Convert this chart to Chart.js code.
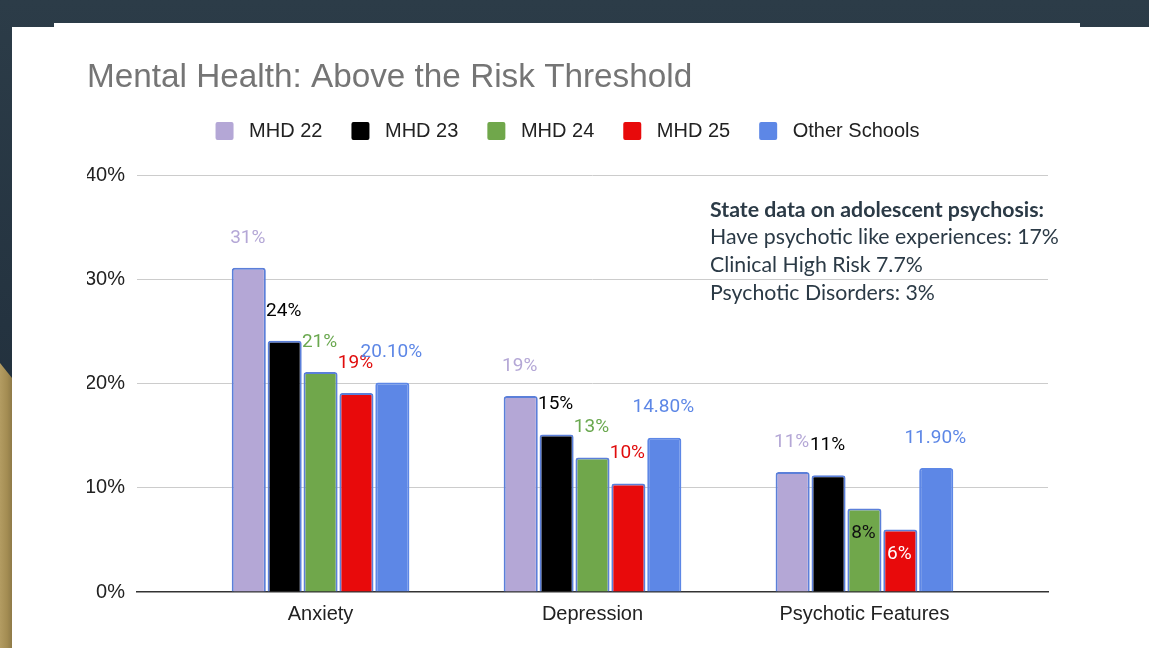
<!DOCTYPE html>
<html>
<head>
<meta charset="utf-8">
<script src="https://cdn.jsdelivr.net/npm/chart.js"></script>
<style>
  html, body { margin: 0; padding: 0; }
  body { width: 1149px; height: 648px; position: relative; overflow: hidden;
         background: linear-gradient(180deg, #2c3c48 0%, #243340 50%, #1f2b35 100%); }
  #gold { position: absolute; left: 0; top: 360px; width: 12px; height: 288px;
          background: linear-gradient(90deg, #b39c62 0%, #a38c52 60%, #8e7a48 100%);
          clip-path: polygon(0 3px, 100% 18px, 100% 100%, 0 100%); }
  #card { position: absolute; left: 12px; top: 27px; right: 0; bottom: 0; background: #ffffff; }
  #cardTop { position: absolute; left: 54px; top: 23px; width: 1026px; height: 6px; background: #ffffff; }
  #chart { position: absolute; left: 0; top: 0; }
  #note { position: absolute; left: 710px; top: 195.5px; font-family: Lato, "Open Sans", sans-serif;
          font-size: 21.3px; line-height: 27.7px; color: #2b3a46; white-space: nowrap; }
  #note b { font-weight: 700; }
</style>
</head>
<body>
<div id="gold"></div>
<div id="card"></div>
<div id="cardTop"></div>
<canvas id="chart" width="1149" height="648"></canvas>
<div id="note"><b>State data on adolescent psychosis:</b><br>Have psychotic like experiences: 17%<br>Clinical High Risk 7.7%<br>Psychotic Disorders: 3%</div>
<script>
const categories = ['Anxiety', 'Depression', 'Psychotic Features'];
const seriesNames = ['MHD 22', 'MHD 23', 'MHD 24', 'MHD 25', 'Other Schools'];
const mhd22 = [31.1, 18.8, 11.5];
const mhd23 = [24.1, 15.1, 11.2];
const mhd24 = [21.1, 12.9, 8.0];
const mhd25 = [19.1, 10.4, 6.0];
const other = [20.1, 14.8, 11.9];
const mhd22Labels = ['31%', '19%', '11%'];
const mhd23Labels = ['24%', '15%', '11%'];
const mhd24Labels = ['21%', '13%', '8%'];
const mhd25Labels = ['19%', '10%', '6%'];
const otherLabels = ['20.10%', '14.80%', '11.90%'];
const yTicks = [0, 10, 20, 30, 40];

const fills = ['#b4a7d6', '#000000', '#70a74b', '#e80a0b', '#5d87e6'];
const labelColors = ['#b4a7d6', '#000000', '#6aa84f', '#e00c0c', '#5d87e6'];
const insideColors = ['#000000', '#ffffff', '#111111', '#ffffff', '#ffffff'];
const allValues = [mhd22, mhd23, mhd24, mhd25, other];
const allLabels = [mhd22Labels, mhd23Labels, mhd24Labels, mhd25Labels, otherLabels];

const datasets = allValues.map((vals, si) => ({
  label: seriesNames[si],
  data: vals.map((v, i) => ({ x: i, y: v })),
  backgroundColor: fills[si],
  borderColor: si === 4 ? fills[si] : '#5b7fd9',
  borderWidth: 2,
  borderSkipped: 'bottom',
  borderRadius: { topLeft: 3, topRight: 3 },
  barPercentage: 0.95,
  categoryPercentage: 0.66
}));

const barLabelPlugin = {
  id: 'barLabels',
  afterDatasetsDraw(chart) {
    const ctx = chart.ctx;
    ctx.save();
    ctx.font = '19px Roboto';
    ctx.textAlign = 'center';
    ctx.textBaseline = 'middle';
    chart.data.datasets.forEach((ds, si) => {
      const meta = chart.getDatasetMeta(si);
      meta.data.forEach((bar, i) => {
        const v = allValues[si][i];
        const inside = v < 9;
        ctx.fillStyle = inside ? insideColors[si] : labelColors[si];
        const y = inside ? bar.y + 25 : bar.y - 30;
        ctx.fillText(allLabels[si][i], bar.x - 1, y);
      });
    });
    ctx.restore();
  }
};

const axisFont = { family: '"Liberation Sans", Arial, sans-serif', size: 20 };

new Chart(document.getElementById('chart'), {
  type: 'bar',
  data: { datasets },
  plugins: [barLabelPlugin],
  options: {
    responsive: false,
    animation: false,
    layout: { padding: { left: 87, right: 101, top: 0, bottom: 0 } },
    plugins: {
      tooltip: { enabled: false },
      title: {
        display: true,
        text: 'Mental Health: Above the Risk Threshold',
        align: 'start',
        color: '#757575',
        font: { family: '"Liberation Sans", Arial, sans-serif', size: 33.3, weight: 'normal', lineHeight: '1px' },
        padding: { top: 77.7, bottom: 13.3 }
      },
      legend: {
        position: 'top',
        align: 'center',
        labels: {
          boxWidth: 18,
          boxHeight: 18,
          useBorderRadius: true,
          borderRadius: 2,
          padding: 29,
          color: '#222222',
          font: axisFont,
          generateLabels(chart) {
            const items = Chart.defaults.plugins.legend.labels.generateLabels(chart);
            items.forEach(it => { it.lineWidth = 0; it.strokeStyle = it.fillStyle; it.text = ' ' + it.text; });
            return items;
          }
        }
      }
    },
    scales: {
      x: {
        type: 'linear',
        offset: false,
        min: -0.675,
        max: 2.675,
        afterBuildTicks(scale) { scale.ticks = categories.map((c, i) => ({ value: i })); },
        afterFit(scale) { scale.height = 56; },
        ticks: {
          callback: (v) => categories[v],
          color: '#222222',
          padding: 2,
          font: axisFont
        },
        grid: { display: false, offset: false },
        border: { display: true, color: '#333333', width: 1.5 }
      },
      xGap: {
        type: 'linear',
        position: 'top',
        display: true,
        afterFit(scale) { scale.height = 24; },
        ticks: { display: false },
        grid: { display: false, drawTicks: false },
        border: { display: false }
      },
      y: {
        min: 0,
        max: 40,
        afterBuildTicks(scale) { scale.ticks = yTicks.map(v => ({ value: v })); },
        afterFit(scale) { scale.width = 50; },
        ticks: {
          callback: (v) => v + '%',
          color: '#222222',
          padding: 12,
          font: axisFont
        },
        grid: {
          drawTicks: false,
          color: (c) => (c.tick && c.tick.value === 0) ? 'rgba(0,0,0,0)' : '#cccccc',
          lineWidth: 1
        },
        border: { display: false }
      }
    }
  }
});
</script>
</body>
</html>
